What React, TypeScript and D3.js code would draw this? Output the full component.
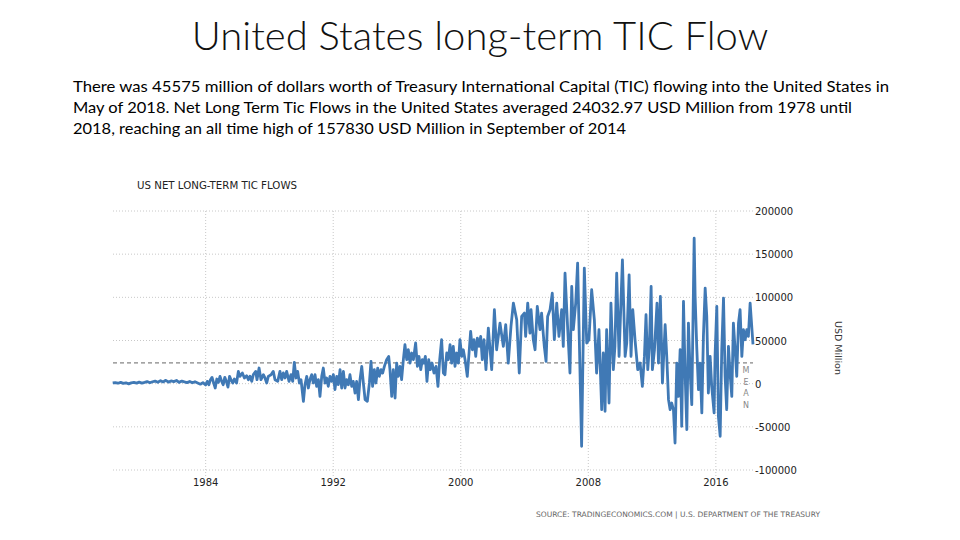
import React from "react";
import * as d3 from "d3";

// Decimal year of each sample and US net long-term TIC flow (USD Million)
const sampleYears: number[] = [
  1978.17, 1978.33, 1978.5, 1978.67, 1978.83, 1979.0, 1979.17, 1979.33, 1979.5, 1979.67, 1979.83,
  1980.0, 1980.17, 1980.33, 1980.5, 1980.67, 1980.83, 1981.0, 1981.17, 1981.33, 1981.5, 1981.67, 1981.83,
  1982.0, 1982.17, 1982.33, 1982.5, 1982.67, 1982.83, 1983.0, 1983.17, 1983.33, 1983.5, 1983.67, 1983.83,
  1984.0, 1984.1, 1984.2, 1984.3, 1984.4, 1984.5, 1984.6, 1984.7, 1984.8, 1984.9, 1985.0, 1985.1, 1985.2,
  1985.3, 1985.4, 1985.5, 1985.6, 1985.7, 1985.8,
  1985.94, 1986.05, 1986.15, 1986.3, 1986.43, 1986.57, 1986.68, 1986.78, 1986.89, 1986.99, 1987.14, 1987.22,
  1987.35, 1987.47, 1987.62, 1987.72, 1987.83, 1987.93, 1988.1, 1988.24, 1988.35, 1988.52, 1988.66, 1988.77,
  1988.87, 1988.98, 1989.08, 1989.23, 1989.35, 1989.46, 1989.56, 1989.67, 1989.77, 1989.88, 1989.98, 1990.13,
  1990.23, 1990.34, 1990.44, 1990.54, 1990.65, 1990.75, 1990.86, 1990.96, 1991.07, 1991.17, 1991.28, 1991.38,
  1991.49, 1991.59, 1991.69, 1991.8, 1991.9, 1992.01, 1992.11, 1992.22, 1992.32, 1992.43, 1992.53, 1992.64,
  1992.74, 1992.84, 1992.95, 1993.05, 1993.16, 1993.26, 1993.37, 1993.47, 1993.58, 1993.68, 1993.79, 1993.89,
  1994.0,
  1994.14, 1994.27, 1994.37, 1994.47, 1994.58, 1994.68, 1994.79, 1994.89, 1995.0, 1995.1, 1995.21, 1995.35,
  1995.48, 1995.56, 1995.67, 1995.77, 1995.88, 1995.98, 1996.08, 1996.19, 1996.29, 1996.4, 1996.5, 1996.61,
  1996.71, 1996.82, 1996.92, 1997.03, 1997.17, 1997.28, 1997.38, 1997.49, 1997.59, 1997.69, 1997.78, 1997.88,
  1997.99, 1998.09, 1998.2, 1998.32, 1998.45, 1998.57, 1998.68, 1998.8, 1998.91, 1999.01, 1999.12, 1999.22,
  1999.33, 1999.43, 1999.53, 1999.64, 1999.74, 1999.85, 1999.95, 2000.06, 2000.16, 2000.27, 2000.41, 2000.52,
  2000.62, 2000.73, 2000.83, 2000.94, 2001.04, 2001.15, 2001.25, 2001.35, 2001.46, 2001.58,
  2001.73, 2001.94, 2002.11, 2002.25, 2002.46, 2002.67, 2002.82, 2002.98, 2003.15, 2003.3, 2003.51, 2003.67,
  2003.82, 2003.99, 2004.07, 2004.2, 2004.34, 2004.41, 2004.55, 2004.66, 2004.8, 2004.97, 2005.07, 2005.24,
  2005.35, 2005.45, 2005.6, 2005.74, 2005.87, 2006.02, 2006.16, 2006.33, 2006.43, 2006.54, 2006.71, 2006.85,
  2006.96, 2007.06, 2007.21, 2007.33, 2007.44, 2007.58, 2007.75, 2007.9, 2008.04, 2008.21, 2008.38, 2008.52,
  2008.67, 2008.84, 2008.94, 2009.05, 2009.15, 2009.3, 2009.42, 2009.57, 2009.67,
  2009.78, 2009.93, 2010.14, 2010.31, 2010.41, 2010.56, 2010.68, 2010.79, 2010.93, 2011.1, 2011.25, 2011.39,
  2011.52, 2011.62, 2011.73, 2011.83, 2011.94, 2012.02, 2012.15, 2012.31, 2012.4, 2012.52, 2012.65, 2012.82,
  2012.92, 2013.03, 2013.13, 2013.23, 2013.34, 2013.44, 2013.55, 2013.65, 2013.76, 2013.86, 2013.97, 2014.07,
  2014.18, 2014.28, 2014.38, 2014.49, 2014.64, 2014.7, 2014.8, 2014.91, 2015.01, 2015.12, 2015.22, 2015.33,
  2015.43, 2015.53, 2015.64, 2015.74, 2015.89, 2015.95, 2016.06, 2016.16, 2016.27, 2016.37, 2016.48, 2016.58,
  2016.68, 2016.79, 2016.89, 2017.0, 2017.1, 2017.21, 2017.31, 2017.42, 2017.52, 2017.63, 2017.73, 2017.84,
  2017.94, 2018.04, 2018.15, 2018.33,
];

const netFlows: number[] = [
  800, 1200, 500, 1500, 300, 1000, -200, 900, 1400, 600, 1800,
  700, 1500, 2400, 1000, 2200, 3000, 1600, 3500, 2000, 3900, 1800, 3200,
  2400, 3700, 1500, 3000, 2000, 1200, 2600, 1000, 2200, 800, -600, 1200,
  -1500, 2700, -1200, 4500, 7300, 1000, -5000, 5400, 1500, 8500, 3000, -1200, 7300,
  2500, -3900, 8500, 4000, 800, 5400,
  800, 14200, 8500, 12400, 6600, 9300, 4600, 8500, 2700, 10400, 14200, 4600,
  18100, 4600, 10400, 6600, 800, 8500, 10400, 14200, 4600, 2700, 14200, 4600,
  12400, 6600, 14200, 2700, 10400, 2700, 24700, 6600, 14200, 800, 4600, -20400,
  -1200, 8500, -5000, 4600, 10400, 800, 10400, -3100, 4600, -14700, 8500, 18100,
  800, 6600, -3100, 8500, 2700, 10400, -6900, 8500, -1200, 16200, -5000, 14200,
  -5000, 4600, -1200, 10400, -3100, 2700, -10800, 2700, -18500, 4600, 20000, 800,
  -18500,
  -20400, 800, 25800, -3100, 16200, 800, 18100, 8500, 16200, 12300, 20000, 27800,
  31600, 16200, -14700, 16200, -16600, 23900, 8500, 20000, 4600, 27800, 45100, 27800,
  39300, 23900, 35500, 27800, 47100, 20000, 31600, 16200, 27800, 23900, 31600, 2700,
  27800, 16200, 23900, 12300, 20000, -3100, 27800, 50900, 12300, 10400, 35500, 27800,
  45100, 23900, 43200, 20000, 35500, 23900, 50900, 31600, 39300, 27800, 8500, 35500,
  60500, 39300, 50900, 31600, 52800, 43200, 54800, 27800, 50900, 16200,
  64400, 16200, 85600, 39300, 70200, 43200, 68300, 23900, 66300, 93300, 74000, 12300,
  77900, 81800, 54800, 93300, 58600, 85600, 50900, 39300, 89500, 62500, 81800, 43200,
  25800, 77900, 85600, 104900, 50900, 93300, 54800, 85600, 43200, 128000, 62500, 12300,
  112600, 62500, 93300, 139600, 47100, -72500, 133800, 47100, 50900, 108800, 74000, 12300,
  62500, -30100, 35500, -32000, 62500, -22400, 93300, 16200, 43200,
  128000, 31600, 143500, 31600, 47100, 126100, 31600, 85600, 50900, 16200, 23900, -3100,
  31600, 79800, 16200, 43200, 112600, 16200, 39300, 93300, 23900, 101000, 800, 68300,
  31600, -18500, -30100, -22400, -30100, -68700, 23900, -14700, 39300, -49400, 95300, 12300,
  -53200, 70200, 16200, -24300, 168500, 101000, 43200, -6900, 23900, -33900, 54800, 110700,
  77900, -10800, 31600, -3100, -33900, 31600, 89500, -37800, -60900, 39300, 99100, 8500,
  -30100, 43200, 12300, -14700, 70200, 39300, 8500, 70200, 85600, 31600, 62500, 50900,
  62500, 54800, 93300, 45600,
];

const yTicks: number[] = [200000, 150000, 100000, 50000, 0, -50000, -100000];
const xTickYears: number[] = [1984, 1992, 2000, 2008, 2016];
const meanFlow = 24032.97;

const titleText = "United States long-term TIC Flow";
const paragraphLines: string[] = [
  "There was 45575 million of dollars worth of Treasury International Capital (TIC) flowing into the United States in",
  "May of 2018. Net Long Term Tic Flows in the United States averaged 24032.97 USD Million from 1978 until",
  "2018, reaching an all time high of 157830 USD Million in September of 2014",
];
const chartTitle = "US NET LONG-TERM TIC FLOWS";
const sourceText = "SOURCE: TRADINGECONOMICS.COM | U.S. DEPARTMENT OF THE TREASURY";
const unitLabel = "USD Million";
const meanLetters = ["M", "E", "A", "N"];

export default function App() {
  const x = d3.scaleLinear().domain([1978, 2018.33]).range([110, 753]);
  const y = d3.scaleLinear().domain([-100000, 200000]).range([470, 211]);
  const plotLeft = 113;
  const plotRight = 753;

  const line = d3
    .line<number>()
    .x((_, i) => x(sampleYears[i]))
    .y((d) => y(d))
    .curve(d3.curveLinear);

  const pathD = line(netFlows) || "";
  const meanY = y(meanFlow);
  const paraWidths = [816, 779, 553];

  return (
    <svg
      width={960}
      height={540}
      style={{ position: "absolute", left: 0, top: 0, background: "#fff" }}
    >
      <rect x={0} y={0} width={960} height={540} fill="#fff" />
      <text
        x={480}
        y={50}
        textAnchor="middle"
        fontFamily="Lato, 'Open Sans', sans-serif"
        fontWeight={300}
        fontSize={40}
        fill="#111"
      >
        {titleText}
      </text>
      {paragraphLines.map((t, i) => (
        <text
          key={i}
          x={73}
          y={92 + i * 21}
          fontFamily="Lato, 'Open Sans', sans-serif"
          fontSize={16}
          fill="#000"
          textLength={paraWidths[i]}
          lengthAdjust="spacingAndGlyphs"
        >
          {t}
        </text>
      ))}
      <text
        x={137}
        y={189}
        fontFamily="'DejaVu Sans', Verdana, sans-serif"
        fontSize={10}
        fill="#222"
        textLength={160}
        lengthAdjust="spacingAndGlyphs"
      >
        {chartTitle}
      </text>

      {/* horizontal gridlines */}
      {yTicks.map((t) => (
        <line
          key={"h" + t}
          x1={plotLeft}
          x2={plotRight}
          y1={y(t)}
          y2={y(t)}
          stroke="#c8c8c8"
          strokeWidth={1}
          strokeDasharray="1,2"
        />
      ))}
      {/* vertical gridlines */}
      {xTickYears.map((t) => (
        <line
          key={"v" + t}
          x1={x(t)}
          x2={x(t)}
          y1={211}
          y2={476}
          stroke="#c8c8c8"
          strokeWidth={1}
          strokeDasharray="1,2"
        />
      ))}

      {/* mean line */}
      <line
        x1={plotLeft}
        x2={plotRight}
        y1={meanY}
        y2={meanY}
        stroke="#666"
        strokeWidth={1}
        strokeDasharray="4,3"
      />

      <path
        d={pathD}
        fill="none"
        stroke="#4079b5"
        strokeWidth={2.8}
        strokeLinejoin="round"
      />

      {meanLetters.map((l, i) => (
        <text
          key={l}
          x={746}
          y={373 + i * 11.5}
          textAnchor="middle"
          fontFamily="'DejaVu Sans', Verdana, sans-serif"
          fontSize={8}
          fill="#888"
        >
          {l}
        </text>
      ))}

      {/* y axis labels */}
      {yTicks.map((t) => (
        <text
          key={"yl" + t}
          x={755}
          y={y(t) + 4}
          fontFamily="'DejaVu Sans', Verdana, sans-serif"
          fontSize={10}
          fill="#222"
        >
          {t === 0 ? "0" : t < 0 ? "-" + Math.abs(t) : String(t)}
        </text>
      ))}

      {/* x axis labels */}
      {xTickYears.map((t) => (
        <text
          key={"xl" + t}
          x={x(t)}
          y={486}
          textAnchor="middle"
          fontFamily="'DejaVu Sans', Verdana, sans-serif"
          fontSize={10}
          fill="#222"
        >
          {t}
        </text>
      ))}

      <text
        transform="translate(835,348) rotate(90)"
        textAnchor="middle"
        fontFamily="'DejaVu Sans', Verdana, sans-serif"
        fontSize={9.5}
        fill="#333"
      >
        {unitLabel}
      </text>

      <text
        x={536}
        y={517}
        fontFamily="'DejaVu Sans', Verdana, sans-serif"
        fontSize={7.5}
        fill="#666"
        textLength={284}
        lengthAdjust="spacingAndGlyphs"
      >
        {sourceText}
      </text>
    </svg>
  );
}
